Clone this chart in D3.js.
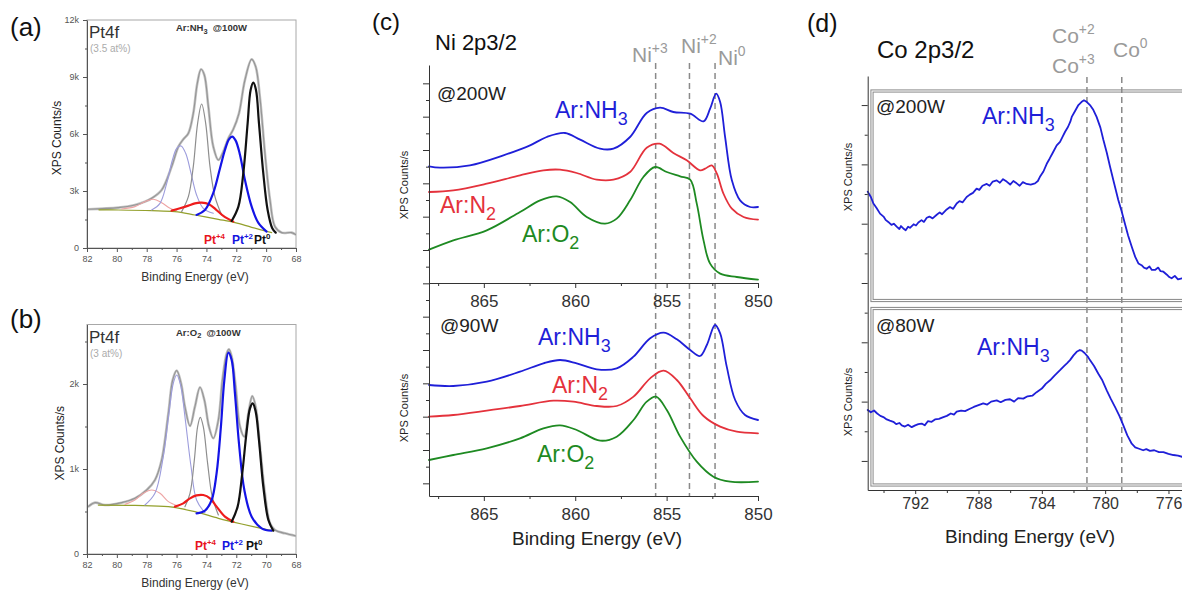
<!DOCTYPE html>
<html>
<head>
<meta charset="utf-8">
<script src="https://cdn.jsdelivr.net/npm/d3@7"></script>
<style>
  body { margin: 0; background: #fff; }
  svg { display: block; }
</style>
</head>
<body>
<svg id="fig" width="1182" height="590"></svg>
<script>
// ---- data: [binding energy (eV), counts] ----
// (a) Pt4f, Ar:NH3 @100W
const aEnvelope = [[81.9,2037],[79.9,2124],[78.79,2265],[78.12,2440],[77.67,2616],[77.0,3054],[76.33,4282],[75.88,5334],[75.55,5720],[75.21,6036],[74.88,7088],[74.61,8667],[74.36,9404],[74.14,9105],[73.87,7439],[73.54,5334],[73.2,4632],[72.87,5071],[72.53,5773],[72.2,6246],[71.82,7088],[71.42,8842],[70.97,9930],[70.7,9544],[70.41,7878],[70.08,4983],[69.74,2528],[69.41,1125],[68.96,809],[68.29,809],[68.0,700]];
const aBackground = [[81.2,2010],[79.9,2001],[77.67,1966],[76.11,1914],[74.77,1738],[73.2,1510],[72.08,1335],[70.97,1089],[69.63,809]];
const aPink = [[79.68,2054],[78.79,2177],[78.12,2440],[77.56,2563],[77.0,2387],[76.44,2089],[75.99,1966]];
const aRed = [[76.33,1966],[75.77,2089],[75.21,2230],[74.77,2352],[74.32,2387],[73.83,2300],[73.38,2037],[72.87,1686],[72.2,1388]];
const aLavender = [[77.67,2001],[77.11,2352],[76.66,3405],[76.28,4632],[75.99,5247],[75.7,5369],[75.39,4983],[75.03,3931],[74.66,2791],[74.21,2089],[73.54,1826]];
const aGrayInner = [[75.66,1914],[75.21,2703],[74.88,4282],[74.59,6562],[74.32,7580],[74.05,6562],[73.76,4282],[73.43,2703],[72.98,1738]];
const aBlue = [[74.66,1740],[74.1,2000],[73.54,2900],[73.09,4200],[72.76,5159],[72.49,5720],[72.27,5860],[72.04,5650],[71.75,4896],[71.42,3580],[70.97,2177],[70.53,1335],[69.97,861]];
const aBlack = [[72.31,1423],[71.86,2177],[71.53,3931],[71.24,6562],[71.04,8316],[70.86,8702],[70.68,8316],[70.48,6562],[70.19,3931],[69.9,2001],[69.59,1037],[69.36,809]];

// (b) Pt4f, Ar:O2 @100W
const bEnvelope = [[81.9,560],[81.46,604],[80.79,576],[79.68,604],[78.79,655],[78.0,753],[77.45,870],[77.0,1106],[76.55,1655],[76.26,2047],[75.99,2157],[75.7,2008],[75.44,1733],[75.1,1506],[74.77,1733],[74.43,1961],[74.14,1812],[73.83,1498],[73.54,1361],[73.2,1576],[72.93,2047],[72.64,2361],[72.49,2408],[72.31,2322],[72.04,1969],[71.75,1498],[71.46,1380],[71.19,1655],[70.93,1859],[70.7,1733],[70.41,1263],[70.08,714],[69.74,361],[69.41,282],[68.74,243],[68.0,212]];
const bBackground = [[81.24,576],[78.79,572],[76.55,557],[74.77,498],[73.2,420],[71.64,353],[69.63,274]];
const bPink = [[79.45,584],[78.79,635],[78.23,714],[77.67,753],[77.11,714],[76.55,616],[75.88,565]];
const bRed = [[76.11,557],[75.55,596],[75.1,655],[74.66,690],[74.21,694],[73.76,655],[73.32,557],[72.76,439],[72.2,380]];
const bLavender = [[78.12,576],[77.45,714],[76.89,1145],[76.51,1655],[76.22,2008],[75.99,2106],[75.73,1988],[75.44,1616],[75.03,1027],[74.66,635],[74.1,486]];
const bGrayInner = [[75.44,557],[75.1,714],[74.81,1106],[74.59,1498],[74.41,1608],[74.21,1498],[73.92,1067],[73.61,674],[73.2,459]];
const bBlue = [[74.66,478],[74.1,510],[73.65,635],[73.32,949],[73.03,1498],[72.8,2047],[72.53,2369],[72.31,2282],[72.09,1890],[71.82,1302],[71.46,753],[70.97,439],[70.3,302],[69.63,274]];
const bBlack = [[72.31,380],[71.91,557],[71.6,949],[71.32,1420],[71.08,1714],[70.9,1773],[70.7,1674],[70.48,1341],[70.19,792],[69.85,400],[69.52,274]];

const ptXTicks = [82,80,78,76,74,72,70,68];
const ptXMinor = [81,79,77,75,73,71,69];
const aYTicks = [0,3000,6000,9000,12000];
const aYMinor = [1500,4500,7500,10500];
const bYTicks = [0,1000,2000];
const bYMinor = [500,1500,2500];

// (c) Ni 2p3/2, stacked (arbitrary offset units)
const cNH3_200 = [[868,9.51],[867.4,9.47],[865.76,9.54],[863.93,9.84],[862.47,10.14],[861.56,10.39],[860.56,10.51],[859.73,10.31],[858.64,10.04],[857.91,10.04],[857.0,10.39],[856.09,11.11],[855.36,11.27],[854.63,11.14],[853.71,11.09],[852.98,10.86],[852.62,11.24],[852.29,11.69],[852.07,11.44],[851.8,10.39],[851.43,9.09],[850.98,8.49],[850.43,8.29],[850,8.29]];
const cN2_200 = [[868,8.74],[866.67,8.79],[864.84,8.99],[863.02,9.24],[861.74,9.39],[860.83,9.41],[859.92,9.31],[858.82,9.11],[857.91,9.11],[857.0,9.34],[856.09,10.07],[855.39,10.19],[854.63,9.91],[853.9,9.69],[853.17,9.39],[852.89,9.44],[852.53,9.54],[852.25,9.29],[851.89,8.69],[851.43,8.24],[850.79,7.99],[850,7.91]];
const cO2_200 = [[868,7.01],[866.67,7.29],[864.84,7.59],[863.02,8.14],[861.92,8.49],[861.01,8.61],[860.28,8.44],[859.37,7.99],[858.37,7.79],[857.73,7.94],[857.0,8.49],[856.27,9.19],[855.63,9.49],[854.99,9.34],[854.26,9.21],[853.71,9.11],[853.35,8.39],[852.98,7.29],[852.62,6.59],[852.07,6.29],[851.16,6.19],[850,6.11]];
const cNH3_90 = [[868,2.95],[866.67,2.92],[864.84,3.05],[863.02,3.35],[861.74,3.6],[860.83,3.7],[859.92,3.6],[858.82,3.42],[857.73,3.45],[856.81,3.8],[855.9,4.35],[855.17,4.52],[854.44,4.32],[853.71,4.0],[853.17,3.82],[852.8,4.15],[852.35,4.75],[852.07,4.5],[851.71,3.5],[851.25,2.5],[850.71,2.05],[850,1.9]];
const cN2_90 = [[868,2.0],[866.67,2.05],[864.84,2.18],[863.02,2.32],[861.19,2.48],[860.1,2.45],[858.82,2.32],[857.73,2.32],[856.81,2.6],[855.9,3.15],[855.17,3.38],[854.44,3.1],[853.71,2.55],[852.98,2.02],[852.07,1.7],[851.16,1.55],[850,1.5]];
const cO2_90 = [[868,0.7],[866.67,0.85],[864.84,1.05],[863.02,1.35],[861.74,1.65],[860.83,1.74],[859.92,1.6],[858.63,1.28],[857.73,1.4],[856.81,1.9],[856.09,2.45],[855.58,2.6],[854.99,2.2],[854.26,1.4],[853.35,0.65],[852.44,0.2],[851.52,0.05],[850,0.05]];
const niRefs = [855.6, 853.75, 852.35];
const cXTicks = [865,860,855,850];
const cXMinor = [867.5,862.5,857.5,852.5];

// (d) Co 2p3/2, stacked
const dNH3_200 = [[795.0,4.54],[794.8,4.45],[794.64,4.34],[794.45,4.27],[794.22,4.17],[794.0,4.12],[793.85,4.06],[793.7,4.03],[793.5,3.98],[793.35,4.0],[793.17,3.95],[793.0,3.91],[792.9,3.96],[792.75,3.92],[792.6,3.89],[792.45,3.95],[792.33,3.93],[792.1,3.99],[791.95,3.97],[791.8,4.02],[791.6,4.06],[791.45,4.03],[791.27,4.1],[791.1,4.12],[790.9,4.09],[790.64,4.15],[790.45,4.19],[790.3,4.16],[790.01,4.24],[789.8,4.28],[789.6,4.25],[789.38,4.34],[789.2,4.38],[789.0,4.36],[788.75,4.45],[788.55,4.49],[788.35,4.52],[788.12,4.59],[787.95,4.57],[787.75,4.64],[787.48,4.67],[787.3,4.64],[787.1,4.71],[786.85,4.73],[786.65,4.69],[786.45,4.75],[786.22,4.71],[786.0,4.66],[785.8,4.72],[785.59,4.68],[785.4,4.64],[785.2,4.7],[784.96,4.67],[784.7,4.66],[784.43,4.68],[784.25,4.72],[784.12,4.79],[783.9,4.88],[783.69,5.01],[783.5,5.1],[783.3,5.2],[783.06,5.32],[782.85,5.38],[782.7,5.46],[782.53,5.55],[782.35,5.63],[782.2,5.72],[782.11,5.8],[781.9,5.9],[781.69,6.0],[781.5,6.05],[781.34,6.08],[781.15,6.05],[780.96,6.0],[780.75,5.92],[780.54,5.8],[780.3,5.62],[780.11,5.41],[779.9,5.2],[779.69,4.96],[779.45,4.7],[779.17,4.4],[778.95,4.2],[778.75,4.0],[778.55,3.8],[778.32,3.61],[778.1,3.44],[777.9,3.33],[777.7,3.3],[777.55,3.26],[777.38,3.24],[777.2,3.28],[777.05,3.22],[776.85,3.22],[776.65,3.26],[776.5,3.2],[776.32,3.19],[776.1,3.14],[775.95,3.1],[775.8,3.08],[775.6,3.12],[775.4,3.06],[775.14,3.08]];
const dNH3_80 = [[795.0,0.86],[794.8,0.82],[794.6,0.85],[794.4,0.8],[794.2,0.76],[794.01,0.74],[793.8,0.7],[793.6,0.68],[793.38,0.66],[793.2,0.62],[793.0,0.64],[792.85,0.6],[792.65,0.58],[792.45,0.61],[792.22,0.57],[792.0,0.6],[791.8,0.62],[791.59,0.63],[791.4,0.6],[791.2,0.67],[790.96,0.66],[790.75,0.7],[790.5,0.71],[790.22,0.74],[790.0,0.76],[789.75,0.8],[789.55,0.78],[789.38,0.83],[789.1,0.85],[788.85,0.84],[788.54,0.88],[788.3,0.91],[788.0,0.94],[787.7,0.97],[787.45,0.95],[787.2,1.0],[786.85,1.02],[786.6,0.99],[786.3,1.03],[786.01,1.04],[785.75,1.0],[785.5,1.06],[785.17,1.05],[784.9,1.09],[784.6,1.1],[784.33,1.16],[784.0,1.22],[783.75,1.3],[783.48,1.36],[783.2,1.44],[782.85,1.53],[782.6,1.6],[782.4,1.65],[782.22,1.7],[782.0,1.78],[781.8,1.84],[781.6,1.87],[781.48,1.86],[781.3,1.82],[781.1,1.76],[780.96,1.7],[780.7,1.6],[780.43,1.47],[780.2,1.37],[779.9,1.19],[779.65,1.05],[779.38,0.91],[779.1,0.76],[778.85,0.6],[778.6,0.43],[778.32,0.29],[778.1,0.23],[777.9,0.21],[777.6,0.18],[777.4,0.2],[777.17,0.17],[776.9,0.18],[776.6,0.15],[776.32,0.15],[776.0,0.12],[775.69,0.1],[775.4,0.09],[775.14,0.07]];
const coRefs = [781.15, 778.95];
const dXTicks = [792,788,784,780,776];
const dXMinor = [794,790,786,782,778];

// ---- drawing ----
const FONT = "'Liberation Sans', Arial, Helvetica, sans-serif";
const BLUE = "#1f1fd8", RED = "#e4323c", GREEN = "#1e8a22", REFGRAY = "#9a9a9a";
const svg = d3.select("#fig").attr("font-family", FONT);

function lineGen(x, y, curve) {
  return d3.line().x(d => x(d[0])).y(d => y(d[1])).curve(curve || d3.curveCatmullRom.alpha(0.5));
}
function addPath(g, data, line, color, w) {
  g.append("path").datum(data).attr("d", line)
    .attr("fill", "none").attr("stroke", color).attr("stroke-width", w)
    .attr("stroke-linejoin", "round").attr("stroke-linecap", "round");
}
function styleAxis(sel, size, color) {
  sel.attr("font-family", FONT).attr("font-size", size);
  sel.selectAll("path,line").attr("stroke", color);
  sel.selectAll("text").attr("fill", color);
}
// text with super/subscripts, parts = [[text, "sup"|"sub"|undefined], ...]
function rich(g, x, y, parts, size, color, weight) {
  const t = g.append("text").attr("x", x).attr("y", y)
    .attr("font-size", size).attr("fill", color);
  if (weight) t.attr("font-weight", weight);
  let cur = 0;
  parts.forEach(p => {
    let target = 0, fs = size;
    if (p[1] === "sup") { target = -size * 0.42; fs = size * 0.66; }
    if (p[1] === "sub") { target = size * 0.3; fs = size * 0.78; }
    t.append("tspan").text(p[0]).attr("font-size", fs).attr("dy", target - cur);
    cur = target;
  });
  return t;
}
function vTitle(g, x, y, txt, size) {
  g.append("text").attr("transform", `translate(${x},${y})rotate(-90)`)
    .attr("text-anchor", "middle").attr("font-size", size).attr("fill", "#222").text(txt);
}

// Pt4f panels (a) and (b)
function ptPanel(cfg) {
  const g = svg.append("g");
  const x = d3.scaleLinear().domain([82, 68]).range([87, 296]);
  const y = d3.scaleLinear().domain([0, cfg.ymax]).range([cfg.bottom, cfg.top]);

  g.append("rect").attr("x", 87).attr("y", cfg.top)
    .attr("width", 209).attr("height", cfg.bottom - cfg.top)
    .attr("fill", "none").attr("stroke", "#a8a8a8");

  const clip = "clip-" + cfg.id;
  g.append("clipPath").attr("id", clip).append("rect")
    .attr("x", 87).attr("y", cfg.top).attr("width", 209).attr("height", cfg.bottom - cfg.top);
  const plot = g.append("g").attr("clip-path", `url(#${clip})`);
  const ln = lineGen(x, y);
  addPath(plot, cfg.envelope, ln, "#c4c4c4", 2.6);
  addPath(plot, cfg.envelope, ln, "#959595", 1.1);
  addPath(plot, cfg.background, ln, "#93a02c", 1.2);
  addPath(plot, cfg.pink, ln, "#eea4a4", 1.1);
  addPath(plot, cfg.lavender, ln, "#9c9cdc", 1.1);
  addPath(plot, cfg.grayInner, ln, "#8e8e8e", 1.2);
  addPath(plot, cfg.red, ln, "#ee1c1c", 2.2);
  addPath(plot, cfg.blue, ln, "#1414e6", 2.2);
  addPath(plot, cfg.black, ln, "#111", 2.2);

  const xa = g.append("g").attr("transform", `translate(0,${cfg.bottom})`)
    .call(d3.axisBottom(x).tickValues(ptXTicks).tickSize(4).tickPadding(4).tickSizeOuter(0));
  styleAxis(xa, 9, "#555");
  const xm = g.append("g").attr("transform", `translate(0,${cfg.bottom})`)
    .call(d3.axisBottom(x).tickValues(ptXMinor).tickSize(2).tickFormat(""));
  xm.select(".domain").remove();
  styleAxis(xm, 9, "#555");

  const ya = g.append("g").attr("transform", "translate(87,0)")
    .call(d3.axisLeft(y).tickValues(cfg.yTicks).tickSize(4).tickPadding(4).tickSizeOuter(0)
      .tickFormat(d => d === 0 ? "0" : (d / 1000) + "k"));
  styleAxis(ya, 9, "#555");
  const ym = g.append("g").attr("transform", "translate(87,0)")
    .call(d3.axisLeft(y).tickValues(cfg.yMinor).tickSize(2).tickFormat(""));
  ym.select(".domain").remove();
  styleAxis(ym, 9, "#555");

  rich(g, 10, cfg.letterY, [[cfg.letter]], 26, "#111");
  rich(g, 89, cfg.top + 18, [["Pt4f"]], 17, "#333");
  rich(g, 176, cfg.top + 11, cfg.gas, 9.5, "#333", "bold");
  rich(g, 90, cfg.top + 32, [[cfg.at]], 10, "#ababab");
  rich(g, cfg.ptX[0], cfg.bottom - 4, [["Pt"], ["+4", "sup"]], 12, "#e8141e", "bold");
  rich(g, cfg.ptX[1], cfg.bottom - 4, [["Pt"], ["+2", "sup"]], 12, "#1414e0", "bold");
  rich(g, cfg.ptX[2], cfg.bottom - 4, [["Pt"], ["0", "sup"]], 12, "#111", "bold");

  vTitle(g, cfg.yTitleX, (cfg.top + cfg.bottom) / 2 + 4, "XPS Counts/s", 12);
  g.append("text").attr("x", 195).attr("y", cfg.bottom + 33).attr("text-anchor", "middle")
    .attr("font-size", 12).attr("fill", "#333").text("Binding Energy (eV)");
}

ptPanel({
  id: "a", top: 20, bottom: 248, ymax: 12000, yTicks: aYTicks, yMinor: aYMinor,
  envelope: aEnvelope, background: aBackground, pink: aPink, red: aRed,
  lavender: aLavender, grayInner: aGrayInner, blue: aBlue, black: aBlack,
  letter: "(a)", letterY: 36, gas: [["Ar:NH"], ["3", "sub"], ["\u00a0\u00a0@100W"]],
  at: "(3.5 at%)", ptX: [204, 232, 254], yTitleX: 61
});
ptPanel({
  id: "b", top: 324.5, bottom: 554, ymax: 2700, yTicks: bYTicks, yMinor: bYMinor,
  envelope: bEnvelope, background: bBackground, pink: bPink, red: bRed,
  lavender: bLavender, grayInner: bGrayInner, blue: bBlue, black: bBlack,
  letter: "(b)", letterY: 328, gas: [["Ar:O"], ["2", "sub"], ["\u00a0\u00a0@100W"]],
  at: "(3 at%)", ptX: [195, 222, 246], yTitleX: 64
});

// (c) Ni 2p3/2
{
  const g = svg.append("g");
  const x = d3.scaleLinear().domain([868, 850]).range([429, 758]);
  const y = d3.scaleLinear().domain([-0.38, 12.55]).range([496, 65]);
  const split = y(6.01);

  g.selectAll("line.ref").data(niRefs).join("line").attr("class", "ref")
    .attr("x1", d => x(d)).attr("x2", d => x(d)).attr("y1", 63).attr("y2", 496)
    .attr("stroke", "#8a8a8a").attr("stroke-width", 1.5).attr("stroke-dasharray", "6,4");

  const ln = lineGen(x, y);
  addPath(g, cNH3_200, ln, BLUE, 1.8);
  addPath(g, cN2_200, ln, RED, 1.8);
  addPath(g, cO2_200, ln, GREEN, 1.8);
  addPath(g, cNH3_90, ln, BLUE, 1.8);
  addPath(g, cN2_90, ln, RED, 1.8);
  addPath(g, cO2_90, ln, GREEN, 1.8);

  const ya = g.append("g").attr("transform", "translate(429,0)")
    .call(d3.axisLeft(y).tickValues(d3.range(0, 13)).tickSize(6).tickFormat("").tickSizeOuter(0));
  styleAxis(ya, 12, "#333");
  const ym = g.append("g").attr("transform", "translate(429,0)")
    .call(d3.axisLeft(y).tickValues(d3.range(0.5, 12.5, 1)).tickSize(3).tickFormat(""));
  ym.select(".domain").remove();
  styleAxis(ym, 12, "#333");

  [split, 496].forEach(yy => {
    const xa = g.append("g").attr("transform", `translate(0,${yy})`)
      .call(d3.axisBottom(x).tickValues(cXTicks).tickSize(5).tickPadding(7).tickSizeOuter(0));
    styleAxis(xa, 17, "#333");
    const xm = g.append("g").attr("transform", `translate(0,${yy})`)
      .call(d3.axisBottom(x).tickValues(cXMinor).tickSize(3).tickFormat(""));
    xm.select(".domain").remove();
    styleAxis(xm, 17, "#333");
  });

  rich(g, 372, 30, [["(c)"]], 24, "#111");
  rich(g, 435, 50, [["Ni 2p3/2"]], 22, "#111");
  rich(g, 632, 62, [["Ni"], ["+3", "sup"]], 21, REFGRAY);
  rich(g, 681, 53, [["Ni"], ["+2", "sup"]], 21, REFGRAY);
  rich(g, 718, 65, [["Ni"], ["0", "sup"]], 21, REFGRAY);
  rich(g, 437, 100, [["@200W"]], 19, "#222");
  rich(g, 555, 118, [["Ar:NH"], ["3", "sub"]], 23, BLUE);
  rich(g, 440, 213, [["Ar:N"], ["2", "sub"]], 23, RED);
  rich(g, 522, 242, [["Ar:O"], ["2", "sub"]], 23, GREEN);
  rich(g, 440, 332, [["@90W"]], 19, "#222");
  rich(g, 538, 345, [["Ar:NH"], ["3", "sub"]], 23, BLUE);
  rich(g, 552, 393, [["Ar:N"], ["2", "sub"]], 23, RED);
  rich(g, 537, 462, [["Ar:O"], ["2", "sub"]], 23, GREEN);

  vTitle(g, 408, 185, "XPS Counts/s", 11);
  vTitle(g, 408, 408, "XPS Counts/s", 11);
  g.append("text").attr("x", 597).attr("y", 545).attr("text-anchor", "middle")
    .attr("font-size", 19).attr("fill", "#222").text("Binding Energy (eV)");
}

// (d) Co 2p3/2
{
  const g = svg.append("g");
  const x = d3.scaleLinear().domain([795, 775]).range([867.7, 1184.3]);
  const y = d3.scaleLinear().domain([-0.49, 6.49]).range([490, 76]);

  // double-line boxes around the two spectra
  [[91, 300.5], [308.5, 485]].forEach(b => {
    g.append("rect").attr("x", 872).attr("y", b[0]).attr("width", 330).attr("height", b[1] - b[0])
      .attr("fill", "none").attr("stroke", "#8c8c8c").attr("stroke-width", 3.2);
    g.append("rect").attr("x", 872).attr("y", b[0]).attr("width", 330).attr("height", b[1] - b[0])
      .attr("fill", "none").attr("stroke", "#fff").attr("stroke-width", 1.1);
  });

  g.selectAll("line.ref").data(coRefs).join("line").attr("class", "ref")
    .attr("x1", d => x(d)).attr("x2", d => x(d)).attr("y1", 77).attr("y2", 490)
    .attr("stroke", "#8a8a8a").attr("stroke-width", 1.5).attr("stroke-dasharray", "6,4");

  const ln = lineGen(x, y, d3.curveLinear);
  addPath(g, dNH3_200, ln, BLUE, 1.8);
  addPath(g, dNH3_80, ln, BLUE, 1.8);

  const ya = g.append("g").attr("transform", "translate(867.7,0)")
    .call(d3.axisLeft(y).tickValues(d3.range(0, 7)).tickSize(6).tickFormat("").tickSizeOuter(0));
  styleAxis(ya, 12, "#333");
  const ym = g.append("g").attr("transform", "translate(867.7,0)")
    .call(d3.axisLeft(y).tickValues(d3.range(0.5, 6.5, 1)).tickSize(3).tickFormat(""));
  ym.select(".domain").remove();
  styleAxis(ym, 12, "#333");

  const xa = g.append("g").attr("transform", "translate(0,490)")
    .call(d3.axisBottom(x).tickValues(dXTicks).tickSize(4).tickPadding(4).tickSizeOuter(0));
  styleAxis(xa, 16, "#333");
  const xm = g.append("g").attr("transform", "translate(0,490)")
    .call(d3.axisBottom(x).tickValues(dXMinor).tickSize(3).tickFormat(""));
  xm.select(".domain").remove();
  styleAxis(xm, 16, "#333");

  rich(g, 807, 32, [["(d)"]], 25, "#111");
  rich(g, 877, 58, [["Co 2p3/2"]], 24, "#111");
  rich(g, 1052, 43, [["Co"], ["+2", "sup"]], 21, REFGRAY);
  rich(g, 1052, 73, [["Co"], ["+3", "sup"]], 21, REFGRAY);
  rich(g, 1113, 57, [["Co"], ["0", "sup"]], 21, REFGRAY);
  rich(g, 876, 113, [["@200W"]], 19, "#222");
  rich(g, 982, 124, [["Ar:NH"], ["3", "sub"]], 23, BLUE);
  rich(g, 876, 332, [["@80W"]], 19, "#222");
  rich(g, 977, 355, [["Ar:NH"], ["3", "sub"]], 23, BLUE);

  vTitle(g, 852, 177, "XPS Counts/s", 11);
  vTitle(g, 852, 402, "XPS Counts/s", 11);
  g.append("text").attr("x", 1030).attr("y", 543).attr("text-anchor", "middle")
    .attr("font-size", 19).attr("fill", "#222").text("Binding Energy (eV)");
}
</script>
</body>
</html>
